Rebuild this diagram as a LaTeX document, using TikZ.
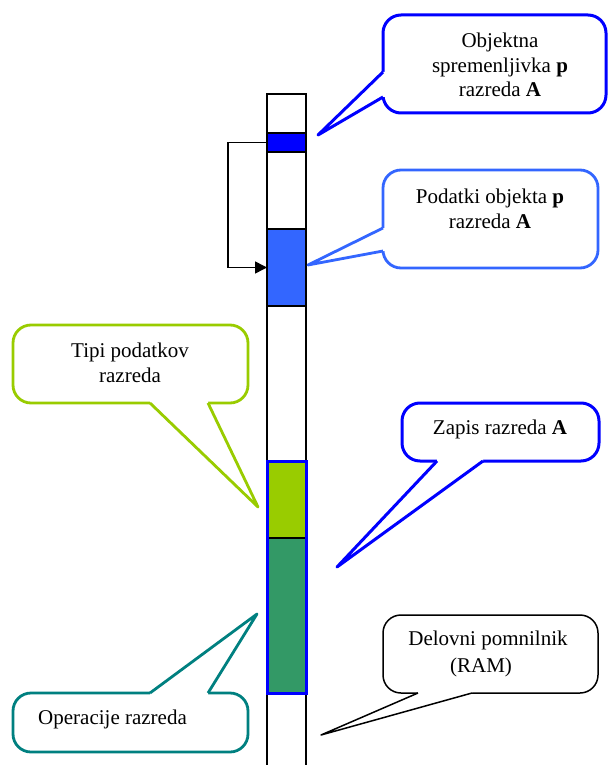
\documentclass[tikz,border=0pt]{standalone}
\usepackage{fontspec}
\setmainfont{Liberation Serif}
\usetikzlibrary{arrows.meta}
\definecolor{refblue}{RGB}{0,0,255}
\definecolor{datablue}{RGB}{51,102,255}
\definecolor{typegreen}{RGB}{153,204,0}
\definecolor{opgreen}{RGB}{51,153,102}
\definecolor{opteal}{RGB}{0,128,128}

\begin{document}
\begin{tikzpicture}[x=1pt,y=-1pt,
  lbl/.style={font=\fontsize{21}{24.5}\selectfont, inner sep=0pt, anchor=base},
  cell/.style={draw=black, line width=1.5pt, minimum width=39pt, inner sep=0pt,
               outer sep=0pt, anchor=north west},
  bubble/.style={fill=white, rounded corners=18pt, line join=round},
  wedge/.style={line join=round},
  penref/.style={draw=refblue, line width=3pt},
  pendata/.style={draw=datablue, line width=2.8pt},
  pentype/.style={draw=typegreen, line width=2.8pt},
  penop/.style={draw=opteal, line width=2.8pt},
  penram/.style={draw=black, line width=1.5pt}]

\useasboundingbox (0,0) rectangle (608,765);
\fill[white] (0,0) rectangle (608,765);

% memory column
\draw[black, line width=1.4pt] (267,765) -- (267,94) -- (306,94) -- (306,765);

% blocks inside the memory
\node[cell, fill=refblue, minimum height=19pt] (ref) at (267,133) {};
\node[cell, fill=datablue, minimum height=77pt] (obj) at (267,229) {};
\node[cell, fill=typegreen, minimum height=77pt] (types) at (267,461) {};
\node[cell, fill=opgreen, minimum height=155pt] (opsblk) at (267,538) {};
\draw[refblue, line width=3pt] (types.north west) rectangle (opsblk.south east);

% reference points to the object data
\draw[-{Triangle[length=12pt,width=12pt]}, line width=1.6pt]
  (ref.west) -- ++(-39,0) |- (obj.west);

% callout: object variable
\draw[penref, bubble] (383,15) rectangle (606,113);
\fill[white] (387,72) -- (383,72) -- (318,135) -- (383,97) -- (387,97) -- cycle;
\draw[penref, wedge] (383,72) -- (318,135) -- (383,97);
\node[lbl] (objA) at (500,48) {Objektna};
\node[lbl] (objB) at (500,73) {spremenljivka \textbf{p}};
\node[lbl] (objC) at (500,97) {razreda \textbf{A}};

% callout: object data
\draw[pendata, bubble] (383,170) rectangle (598,268);
\fill[white] (387,228) -- (383,228) -- (308,265) -- (383,251) -- (387,251) -- cycle;
\draw[pendata, wedge] (383,228) -- (308,265) -- (383,251);
\node[lbl] (datA) at (490,203) {Podatki objekta \textbf{p}};
\node[lbl] (datB) at (490,228) {razreda \textbf{A}};

% callout: data types of the class
\draw[pentype, bubble] (13,325) rectangle (248,403);
\fill[white] (150,399) -- (150,403) -- (258,507) -- (208,403) -- (208,399) -- cycle;
\draw[pentype, wedge] (150,403) -- (258,507) -- (208,403);
\node[lbl] (typA) at (130,357) {Tipi podatkov};
\node[lbl] (typB) at (130,382) {razreda};

% callout: class record
\draw[penref, bubble] (402,403) rectangle (599,461);
\fill[white] (437,457) -- (437,461) -- (337,567) -- (483,461) -- (483,457) -- cycle;
\draw[penref, wedge] (437,461) -- (337,567) -- (483,461);
\node[lbl] (rec) at (500,434) {Zapis razreda \textbf{A}};

% callout: working memory
\draw[penram, bubble] (383,615) rectangle (598,693);
\fill[white] (418,690) -- (418,693) -- (321,735) -- (472,693) -- (472,690) -- cycle;
\draw[penram, wedge] (418,693) -- (321,735) -- (472,693);
\node[lbl] (ramA) at (488,645) {Delovni pomnilnik};
\node[lbl] (ramB) at (481,672) {(RAM)};

% callout: class operations
\draw[penop, bubble] (13,693) rectangle (248,752);
\fill[white] (150,697) -- (150,693) -- (257,614) -- (208,693) -- (208,697) -- cycle;
\draw[penop, wedge] (150,693) -- (257,614) -- (208,693);
\node[lbl, anchor=base west] (ops) at (38,724) {Operacije razreda};

\end{tikzpicture}
\end{document}
